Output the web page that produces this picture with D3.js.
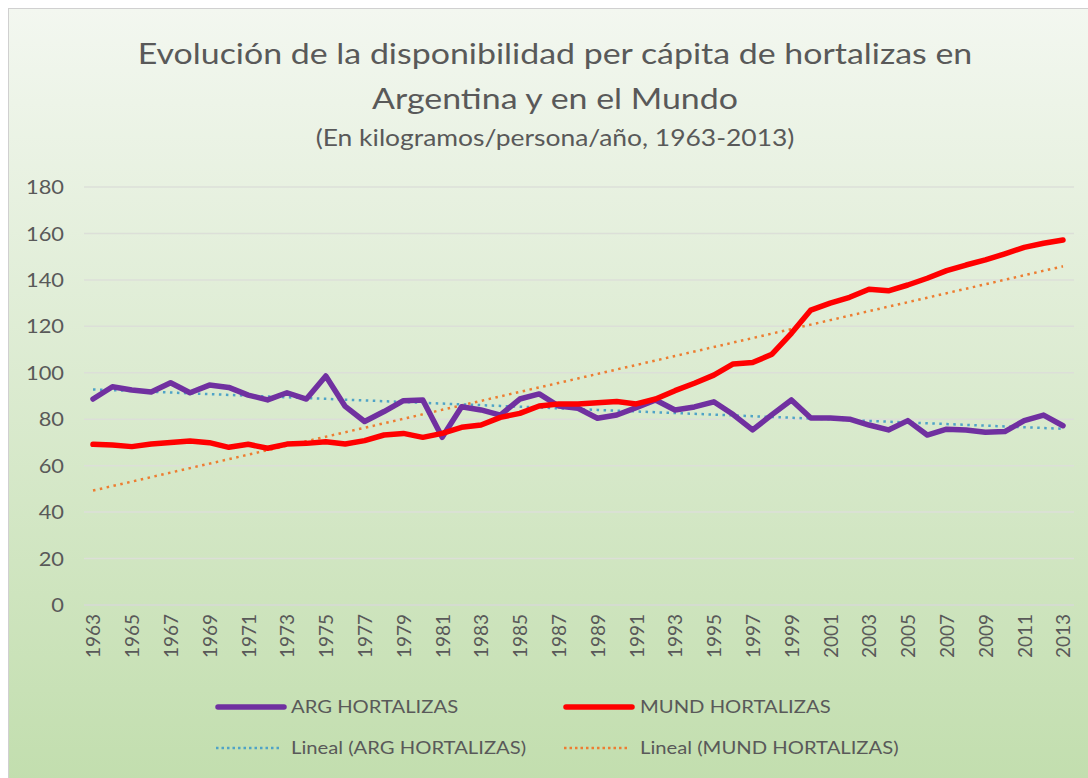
<!DOCTYPE html>
<html>
<head>
<meta charset="utf-8">
<script src="https://cdn.jsdelivr.net/npm/d3@7"></script>
<style>
  body { margin: 0; background: #fff; }
  text { font-family: Lato, "Open Sans", sans-serif; fill: #595959; }
</style>
</head>
<body>
<svg id="chart" width="1088" height="778"></svg>
<script>
const years = d3.range(1963, 2014);

const arg = [88.7, 94, 92.6, 91.7, 95.7, 91.4, 94.7, 93.7, 90.4, 88.3,
  91.4, 88.7, 98.6, 85.5, 79, 83.3, 88, 88.3, 72.2, 85.4,
  84, 81.8, 88.7, 90.9, 85.7, 84.7, 80.4, 81.8, 85, 88.3,
  84, 85.3, 87.5, 82, 75.4, 82, 88.3, 80.5, 80.5, 80,
  77.5, 75.4, 79.4, 73.2, 75.7, 75.4, 74.4, 74.7, 79.4, 81.8, 77.2];

const mund = [69.2, 68.9, 68.2, 69.3, 70, 70.6, 69.9, 67.9, 69.2, 67.5,
  69.3, 69.6, 70.3, 69.3, 70.8, 73.2, 73.9, 72.2, 73.9, 76.5,
  77.5, 80.8, 82.5, 85.7, 86.6, 86.6, 87.1, 87.6, 86.6, 88.7,
  92.3, 95.5, 99, 103.8, 104.4, 108, 117, 127, 130, 132.5,
  136, 135.3, 137.8, 140.7, 144, 146.4, 148.6, 151.2, 154, 155.8, 157.2];

const yTicks = d3.range(0, 181, 20);
const xLabels = years.filter((y, i) => i % 2 === 0);

const SX = 1.15; // text in the source looks a little wide

const svg = d3.select('#chart');

// background panel
const defs = svg.append('defs');
const grad = defs.append('linearGradient')
  .attr('id', 'bg').attr('x1', 0).attr('y1', 0).attr('x2', 0).attr('y2', 1);
grad.append('stop').attr('offset', '0%').attr('stop-color', '#f3f7f0');
grad.append('stop').attr('offset', '100%').attr('stop-color', '#c2deae');

svg.append('rect')
  .attr('x', 8.5).attr('y', 8.5).attr('width', 1085).attr('height', 775)
  .attr('fill', 'url(#bg)').attr('stroke', '#d0d0d0');

function label(g, x0, y0, size, anchor, txt) {
  return g.append('text')
    .attr('transform', `translate(${x0},${y0}) scale(${SX},1)`)
    .attr('text-anchor', anchor)
    .style('font-size', size + 'px')
    .text(txt);
}

// titles
label(svg, 555, 64, 29.5, 'middle', 'Evolución de la disponibilidad per cápita de hortalizas en');
label(svg, 555, 109, 29.5, 'middle', 'Argentina y en el Mundo');
label(svg, 555, 146, 23, 'middle', '(En kilogramos/persona/año, 1963-2013)');

const x = d3.scalePoint().domain(years).range([93, 1063]);
const y = d3.scaleLinear().domain([0, 180]).range([605, 187]);

// grid
svg.append('g').selectAll('line').data(yTicks).enter().append('line')
  .attr('x1', 84).attr('x2', 1074)
  .attr('y1', d => y(d)).attr('y2', d => y(d))
  .attr('stroke', d => d === 0 ? '#d4dcd0' : '#dcdfd8')
  .attr('stroke-width', d => d === 0 ? 2 : 1.5);

// y axis labels
const yAxis = d3.axisLeft(y).tickValues(yTicks).tickSize(0).tickPadding(0);
const gy = svg.append('g').attr('transform', 'translate(64,0)').call(yAxis);
gy.select('.domain').remove();
gy.selectAll('.tick text')
  .style('font-size', '19px').style('font-family', 'Lato, sans-serif')
  .attr('fill', '#595959').attr('x', 0).attr('dy', '0.35em')
  .attr('transform', `scale(${SX},1)`);

// x axis labels
const xAxis = d3.axisBottom(x).tickValues(xLabels).tickSize(0).tickPadding(0);
const gx = svg.append('g').attr('transform', 'translate(0,614)').call(xAxis);
gx.select('.domain').remove();
gx.selectAll('text')
  .style('font-size', '19px').style('font-family', 'Lato, sans-serif')
  .attr('fill', '#595959')
  .attr('text-anchor', 'end')
  .attr('transform', 'rotate(-90)')
  .attr('x', 0).attr('y', 0).attr('dy', '0.36em');

// linear trend lines (least squares, as the spreadsheet "Lineal" trendline)
function trend(vals) {
  const xs = d3.range(vals.length);
  const mx = d3.mean(xs), my = d3.mean(vals);
  const b = d3.sum(xs, (v, i) => (v - mx) * (vals[i] - my)) / d3.sum(xs, v => (v - mx) ** 2);
  const a = my - b * mx;
  return xs.map(i => a + b * i);
}

const line = d3.line().x((d, i) => x(years[i])).y(d => y(d));

svg.append('path').datum(trend(arg))
  .attr('d', line).attr('fill', 'none')
  .attr('stroke', '#4fa3c7').attr('stroke-width', 2.5)
  .attr('stroke-dasharray', '2.5,4.5');
svg.append('path').datum(trend(mund))
  .attr('d', line).attr('fill', 'none')
  .attr('stroke', '#ed7d31').attr('stroke-width', 2.5)
  .attr('stroke-dasharray', '2.5,4.5');

svg.append('path').datum(arg)
  .attr('d', line).attr('fill', 'none')
  .attr('stroke', '#7030a0').attr('stroke-width', 5.5)
  .attr('stroke-linejoin', 'round').attr('stroke-linecap', 'round');
svg.append('path').datum(mund)
  .attr('d', line).attr('fill', 'none')
  .attr('stroke', '#ff0000').attr('stroke-width', 5.5)
  .attr('stroke-linejoin', 'round').attr('stroke-linecap', 'round');

// legend
const legend = [
  { label: 'ARG HORTALIZAS', color: '#7030a0', w: 5.5, dash: null, x: 218, tx: 291, y: 707 },
  { label: 'MUND HORTALIZAS', color: '#ff0000', w: 5.5, dash: null, x: 566, tx: 640, y: 707 },
  { label: 'Lineal (ARG HORTALIZAS)', color: '#4fa3c7', w: 2.5, dash: '2.5,3', x: 216, tx: 291, y: 748 },
  { label: 'Lineal (MUND HORTALIZAS)', color: '#ed7d31', w: 2.5, dash: '2.5,3', x: 564, tx: 640, y: 748 }
];
const lg = svg.append('g').selectAll('g').data(legend).enter().append('g');
lg.append('line')
  .attr('x1', d => d.x).attr('x2', d => d.dash ? d.x + 64 : d.x + 66)
  .attr('y1', d => d.y).attr('y2', d => d.y)
  .attr('stroke', d => d.color).attr('stroke-width', d => d.w)
  .attr('stroke-dasharray', d => d.dash)
  .attr('stroke-linecap', d => d.dash ? 'butt' : 'round');
lg.append('text')
  .attr('transform', d => `translate(${d.tx},${d.y}) scale(${SX},1)`)
  .attr('dy', '0.35em')
  .style('font-size', '17.6px').text(d => d.label);
</script>
</body>
</html>
